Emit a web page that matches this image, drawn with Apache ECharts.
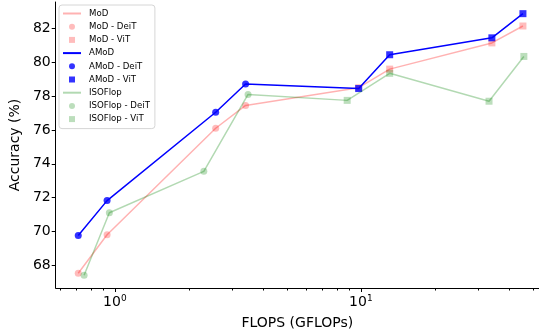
<!DOCTYPE html>
<html>
<head>
<meta charset="utf-8">
<script src="https://cdn.jsdelivr.net/npm/echarts@6/dist/echarts.min.js"></script>
<style>
  html, body { margin: 0; padding: 0; background: #fff; }
  #chart { width: 539px; height: 335px; }
</style>
</head>
<body>
<div id="chart"></div>
<script>
// FLOPs (GFLOPs) per model
const deitFlops = [0.71, 0.93, 2.57, 3.4];
const vitFlops = [9.8, 13.1, 34.1, 45.6];
const isoDeitFlops = [0.75, 0.95, 2.3, 3.48];
const isoVitFlops = [8.8, 13.1, 33.2, 46];

// accuracy (%)
const modDeit = [67.52, 69.8, 76.1, 77.45];
const modVit = [78.5, 79.6, 81.15, 82.15];
const amodDeit = [69.75, 71.82, 77.05, 78.72];
const amodVit = [78.45, 80.45, 81.45, 82.88];
const isoDeit = [67.4, 71.1, 73.55, 78.1];
const isoVit = [77.75, 79.35, 77.7, 80.35];

const yTicks = [68, 70, 72, 74, 76, 78, 80, 82];
const xMajor = [1, 10];
const xMinor = [0.6, 0.7, 0.8, 0.9, 2, 3, 4, 5, 6, 7, 8, 9, 20, 30, 40, 50];

const FONT = 'DejaVu Sans';
const RED = 'rgba(255,0,0,0.3)';
const RED_M = 'rgba(255,0,0,0.33)';
const BLUE = '#0000ff';
const GREEN = 'rgba(0,128,0,0.3)';
const GREEN_M = 'rgba(0,128,0,0.33)';
const SQUARE = 'path://M0,0L10,0L10,10L0,10Z';

const pairs = (xs, ys) => xs.map((x, i) => [x, ys[i]]);

const lineSeries = (name, color, data, width) => ({
  name,
  type: 'line',
  symbol: 'none',
  data,
  lineStyle: { color, width },
  itemStyle: { color },
  silent: true
});

const dotSeries = (name, color, symbol, data, size) => ({
  name,
  type: 'scatter',
  symbol,
  symbolSize: size,
  data,
  itemStyle: { color },
  silent: true
});

// legend: plain line for the trend entries, marker only for the scatter ones
const lineItem = name => ({ name, itemStyle: { opacity: 0 } });
const circleItem = name => ({ name, icon: 'circle' });
const squareItem = name => ({ name, icon: SQUARE });

const chart = echarts.init(document.getElementById('chart'), null, { renderer: 'canvas' });

chart.setOption({
  animation: false,
  backgroundColor: '#fff',
  textStyle: { fontFamily: FONT },
  grid: { left: 55, right: 0, top: 2, bottom: 42 },
  legend: {
    orient: 'vertical',
    left: 59,
    top: 5,
    itemWidth: 18,
    itemHeight: 6,
    itemGap: 2.2,
    padding: [3, 5, 4, 3],
    backgroundColor: 'rgba(255,255,255,0.8)',
    borderColor: '#d6d6d6',
    borderWidth: 1,
    borderRadius: 3,
    textStyle: { fontFamily: FONT, fontSize: 8.6, lineHeight: 11, color: '#000', padding: [0, 0, 0, 3] },
    data: [
      lineItem('MoD'), circleItem('MoD - DeiT'), squareItem('MoD - ViT'),
      lineItem('AMoD'), circleItem('AMoD - DeiT'), squareItem('AMoD - ViT'),
      lineItem('ISOFlop'), circleItem('ISOFlop - DeiT'), squareItem('ISOFlop - ViT')
    ]
  },
  xAxis: [
    {
      type: 'log',
      logBase: 10,
      min: 0.575,
      max: 53,
      name: 'FLOPS (GFLOPs)',
      nameLocation: 'middle',
      nameGap: 28,
      nameTextStyle: { fontFamily: FONT, fontSize: 14, color: '#000' },
      axisLine: { lineStyle: { color: '#000', width: 1 } },
      axisTick: { length: 4, lineStyle: { color: '#000' }, customValues: xMajor },
      axisLabel: {
        customValues: xMajor,
        margin: 6,
        color: '#000',
        fontFamily: FONT,
        formatter: v => (v < 5 ? '10{s|0}' : '10{s|1}'),
        rich: {
          s: { fontSize: 9, fontFamily: FONT, color: '#000', padding: [0, 0, 8, 0] }
        },
        fontSize: 14
      },
      splitLine: { show: false },
      minorTick: { show: false }
    },
    {
      type: 'log',
      logBase: 10,
      min: 0.575,
      max: 53,
      position: 'bottom',
      axisLine: { show: false },
      axisTick: { length: 2.5, lineStyle: { color: '#000' }, customValues: xMinor },
      axisLabel: { show: false },
      splitLine: { show: false }
    }
  ],
  yAxis: {
    type: 'value',
    min: 66.65,
    max: 83.57,
    name: 'Accuracy (%)',
    nameLocation: 'middle',
    nameGap: 26,
    nameTextStyle: { fontFamily: FONT, fontSize: 14, color: '#000' },
    axisLine: { show: true, lineStyle: { color: '#000', width: 1 } },
    axisTick: { show: true, length: 4, lineStyle: { color: '#000' }, customValues: yTicks },
    axisLabel: { customValues: yTicks, margin: 5, color: '#000', fontFamily: FONT, fontSize: 14 },
    splitLine: { show: false }
  },
  series: [
    lineSeries('MoD', RED, pairs(deitFlops.concat(vitFlops), modDeit.concat(modVit)), 1.5),
    dotSeries('MoD - DeiT', RED_M, 'circle', pairs(deitFlops, modDeit), 7),
    dotSeries('MoD - ViT', RED_M, 'rect', pairs(vitFlops, modVit), 7),
    lineSeries('AMoD', BLUE, pairs(deitFlops.concat(vitFlops), amodDeit.concat(amodVit)), 1.5),
    dotSeries('AMoD - DeiT', BLUE, 'circle', pairs(deitFlops, amodDeit), 7),
    dotSeries('AMoD - ViT', BLUE, 'rect', pairs(vitFlops, amodVit), 7),
    lineSeries('ISOFlop', GREEN, pairs(isoDeitFlops.concat(isoVitFlops), isoDeit.concat(isoVit)), 1.5),
    dotSeries('ISOFlop - DeiT', GREEN_M, 'circle', pairs(isoDeitFlops, isoDeit), 7),
    dotSeries('ISOFlop - ViT', GREEN_M, 'rect', pairs(isoVitFlops, isoVit), 7)
  ]
});
</script>
</body>
</html>
